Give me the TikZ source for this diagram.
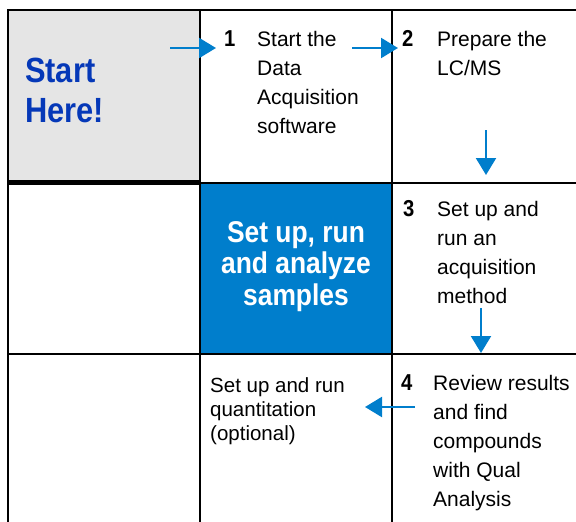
\documentclass[tikz,border=0pt]{standalone}
\usepackage{fontspec}
\setmainfont{Liberation Sans}
\newfontfamily\headfont[FakeStretch=0.88]{Liberation Sans}
\usetikzlibrary{arrows.meta}
\definecolor{agblue}{RGB}{0,126,204}
\definecolor{startblue}{RGB}{5,56,184}
\definecolor{cellgrey}{RGB}{229,229,229}
\tikzset{
  grid/.style={line width=2pt, black},
  thickgrid/.style={line width=5.5pt, black},
  flow/.style={line width=2.2pt, agblue, -{Triangle[length=17pt,width=20pt]}},
  steptext/.style={anchor=base west, inner sep=0pt, align=left, font=\fontsize{21}{29}\selectfont},
  stepnum/.style={anchor=base west, inner sep=0pt, font=\headfont\fontsize{23}{29}\selectfont\bfseries},
}
\begin{document}
\begin{tikzpicture}[x=1pt,y=-1pt]
\useasboundingbox (0,0) rectangle (576,522);
% fills
\fill[cellgrey] (8,10) rectangle (200,183);
\fill[agblue] (200,183) rectangle (392,354);
% grid
\draw[grid] (8,522) -- (8,10) -- (576,10);
\draw[grid] (200,10) -- (200,522);
\draw[grid] (392,10) -- (392,522);
\draw[grid] (200,183) -- (576,183);
\draw[grid] (8,354) -- (576,354);
\draw[thickgrid] (8,182.5) -- (201,182.5);
% texts (anchor = baseline of last line)
\node[anchor=base west, inner sep=0pt, align=left, text=startblue,
      font=\headfont\bfseries\fontsize{35}{40}\selectfont] (start) at (25,122) {Start\\Here!};
\node[stepnum] (n1) at (224,46) {1};
\node[steptext] (t1) at (257,133) {Start the\\Data\\Acquisition\\software};
\node[stepnum] (n2) at (402,46) {2};
\node[steptext] (t2) at (437,75) {Prepare the\\LC/MS};
\node[anchor=base, inner sep=0pt, align=center, text=white,
      font=\headfont\bfseries\fontsize{30}{31.5}\selectfont] (main) at (296,305) {Set up, run\\and analyze\\samples};
\node[stepnum] (n3) at (403,216) {3};
\node[steptext] (t3) at (437,303) {Set up and\\run an\\acquisition\\method};
\node[stepnum] (n4) at (401,390) {4};
\node[steptext] (t4) at (433,506) {Review results\\and find\\compounds\\with Qual\\Analysis};
\node[steptext, font=\fontsize{20.5}{24}\selectfont] (q) at (210,440) {Set up and run\\quantitation\\(optional)};
% arrows
\coordinate (a1s) at (170,48); \coordinate (a1e) at (216,48);
\coordinate (a2s) at (352,48); \coordinate (a2e) at (398,48);
\coordinate (a3s) at (486,130); \coordinate (a3e) at (486,175);
\coordinate (a4s) at (481,308); \coordinate (a4e) at (481,353);
\coordinate (a5s) at (415,407); \coordinate (a5e) at (365,407);
\draw[flow] (a1s) -- (a1e);
\draw[flow] (a2s) -- (a2e);
\draw[flow] (a3s) -- (a3e);
\draw[flow] (a4s) -- (a4e);
\draw[flow] (a5s) -- (a5e);
\end{tikzpicture}
\end{document}
